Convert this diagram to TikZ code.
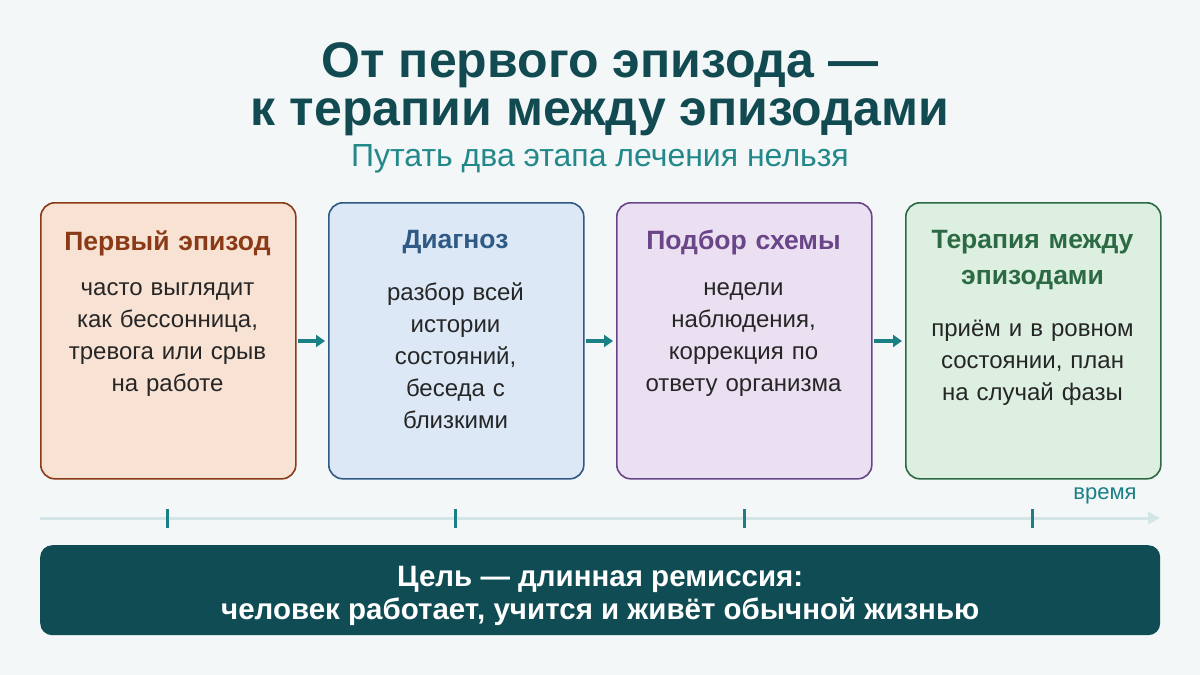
\documentclass[tikz,border=0pt]{standalone}
\usepackage{fontspec}
\setmainfont{Liberation Sans}
\usetikzlibrary{arrows.meta}
\definecolor{bgc}{HTML}{F3F7F8}
\definecolor{titlec}{HTML}{124A52}
\definecolor{subc}{HTML}{23888A}
\definecolor{arrc}{HTML}{1B7F86}
\definecolor{linec}{HTML}{D3E5E6}
\definecolor{barc}{HTML}{0F4C54}
\definecolor{oneD}{HTML}{8A3A16}\definecolor{oneF}{HTML}{F8E2D4}
\definecolor{twoD}{HTML}{2E5A85}\definecolor{twoF}{HTML}{DCE8F5}
\definecolor{thrD}{HTML}{6A4689}\definecolor{thrF}{HTML}{EAE0F1}
\definecolor{fouD}{HTML}{2B6A43}\definecolor{fouF}{HTML}{DDEFE1}
\tikzset{
  stage/.style={draw=#1D, fill=#1F, line width=1.6pt, rounded corners=14pt,
    minimum width=255pt, minimum height=276pt, anchor=north west},
  head/.style={font=\bfseries\fontsize{26.5}{36}\selectfont, align=center, anchor=north, text width=240pt},
  body/.style={font=\fontsize{24}{32}\selectfont, align=center, anchor=north, text=black!85, text width=240pt},
  nextarrow/.style={-{Triangle[length=9pt,width=12pt]}, arrc, line width=3.5pt},
}
\begin{document}
\begin{tikzpicture}[x=1pt,y=-1pt]
\fill[bgc] (0,0) rectangle (1200,675);
\useasboundingbox (0,0) rectangle (1200,675);

% title
\node[font=\bfseries\fontsize{50}{48}\selectfont, text=titlec, align=center] (title) at (600,89)
  {От первого эпизода —\\к терапии между эпизодами};
\node[font=\fontsize{32}{36}\selectfont, text=subc] (sub) at (600,159) {Путать два этапа лечения нельзя};

% stages
\node[stage=one] (s1) at (40,202) {};
\node[stage=two] (s2) at (328,202) {};
\node[stage=thr] (s3) at (616,202) {};
\node[stage=fou] (s4) at (905,202) {};

\node[head, text=oneD] (h1) at (167.5,227) {Первый эпизод};
\node[body] at (167.5,279) {часто выглядит\\как бессонница,\\тревога или срыв\\на работе};
\node[head, text=twoD] (h2) at (455.5,227) {Диагноз};
\node[body] at (455.5,279) {разбор всей\\истории\\состояний,\\беседа с\\близкими};
\node[head, text=thrD] (h3) at (743.5,227) {Подбор схемы};
\node[body] at (743.5,279) {недели\\наблюдения,\\коррекция по\\ответу организма};
\node[head, text=fouD] (h4) at (1032.5,227) {Терапия между\\эпизодами};
\node[body] at (1032.5,317) {приём и в ровном\\состоянии, план\\на случай фазы};

\coordinate (a1) at (298,341); \coordinate (b1) at (325,341);
\coordinate (a2) at (586,341); \coordinate (b2) at (613,341);
\coordinate (a3) at (874,341); \coordinate (b3) at (902,341);
\draw[nextarrow] (a1) -- (b1);
\draw[nextarrow] (a2) -- (b2);
\draw[nextarrow] (a3) -- (b3);

% timeline
\coordinate (t0) at (40,518);
\coordinate (t1) at (1160,518);
\draw[linec, line width=3pt, -{Triangle[length=12pt,width=12pt]}] (t0) -- (t1);
\foreach \x in {167,455,744,1032}
  \draw[arrc, line width=3pt] (\x,509) -- (\x,528);
\node[font=\fontsize{22}{24}\selectfont, text=arrc] (time) at (1105,496) {время};

% goal bar
\node[fill=barc, rounded corners=12pt, minimum width=1120pt, minimum height=90pt,
  anchor=north west] (goal) at (40,545) {};
\node[font=\bfseries\fontsize{29.5}{33}\selectfont, text=white, align=center] at ([yshift=-6pt]goal.center)
  {Цель — длинная ремиссия:\\человек работает, учится и живёт обычной жизнью};
\end{tikzpicture}
\end{document}
